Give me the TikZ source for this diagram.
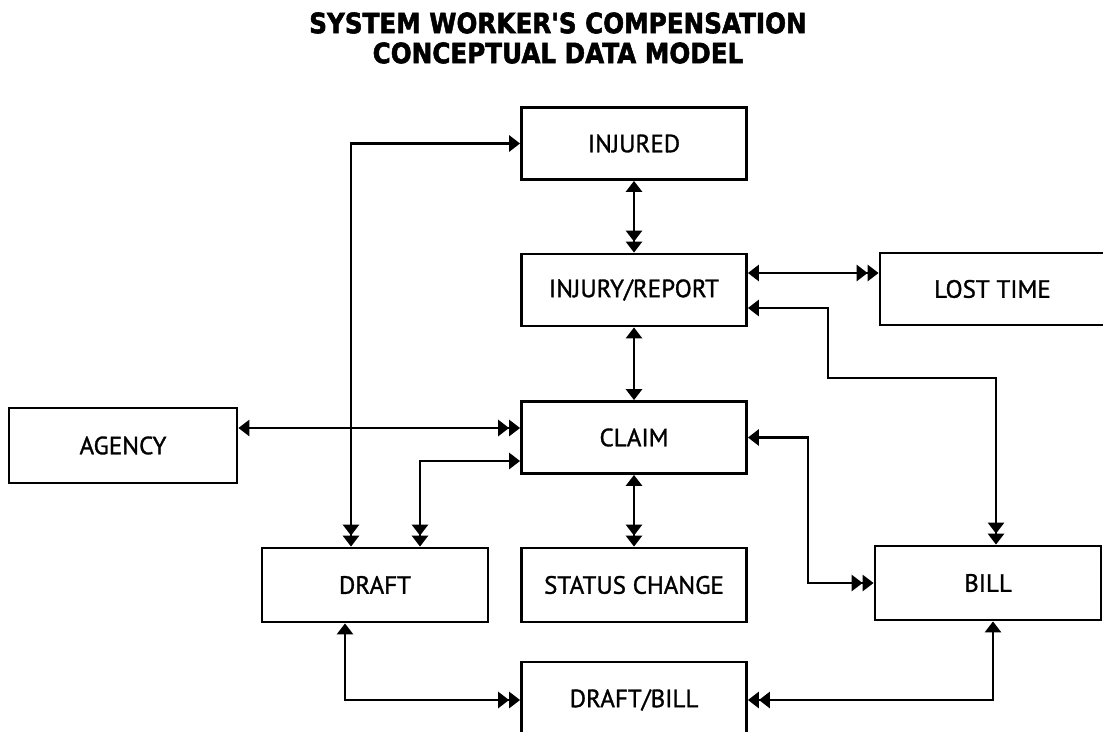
\documentclass[tikz,border=0pt]{standalone}
\usepackage{fontspec}
\usetikzlibrary{arrows.meta,calc}
\newfontfamily\labelfont[FakeBold=1.2]{PT Sans}
\newfontfamily\titlefont[BoldFeatures={FakeBold=2}]{DejaVu Sans}
\tikzset{
  box/.style={draw, line width=2.8pt, minimum width=225pt, minimum height=72pt,
    inner sep=0pt, font=\labelfont\fontsize{25}{28}\selectfont},
  conn/.style={line width=2.8pt},
  sd/.style={conn, {Triangle[width=16pt,length=11pt]}-{Triangle[width=16pt,length=11pt] Triangle[width=16pt,length=11pt]}},
  ss/.style={conn, {Triangle[width=16pt,length=11pt]}-{Triangle[width=16pt,length=11pt]}}
}
\begin{document}
\begin{tikzpicture}[x=1pt,y=-1pt]
\useasboundingbox (0,0) rectangle (1103,731);
\node[font=\titlefont\bfseries\fontsize{28}{30}\selectfont, align=center, inner sep=0pt] (title) at (558,38)
  {\scalebox{0.88}[1]{SYSTEM WORKER'S COMPENSATION}\\\scalebox{0.88}[1]{CONCEPTUAL DATA MODEL}};

\node[box] (INJURED) at (634,143.5) {INJURED};
\node[box] (INJURYREPORT) at (634,290) {INJURY/REPORT};
\node[box] (LOSTTIME) at (992.5,289) {LOST TIME};
\node[box, minimum width=228pt, minimum height=75pt] (AGENCY) at (123,445.5) {AGENCY};
\node[box] (CLAIM) at (634,437.5) {CLAIM};
\node[box, minimum width=226pt, minimum height=74pt] (DRAFT) at (375,585) {DRAFT};
\node[box, minimum height=74pt] (STATUS) at (634,585) {STATUS CHANGE};
\node[box, minimum width=226pt, minimum height=74pt] (BILL) at (988,583) {BILL};
\node[box, minimum height=76pt] (DRAFTBILL) at (634,700) {DRAFT/BILL};

\coordinate (d1) at ($(DRAFT.north)+(-24,0)$);
\coordinate (d2) at ($(DRAFT.north)+(45,0)$);
\coordinate (b1) at ($(BILL.north)+(8,0)$);
\coordinate (k1) at (828,378);

\draw[sd] (INJURED.west) -| (d1);
\draw[sd] (INJURED.south) -- (INJURYREPORT.north);
\draw[sd] ([yshift=17pt]INJURYREPORT.east) -- ([yshift=17pt]INJURYREPORT.east -| LOSTTIME.west);
\draw[sd] ([yshift=-18pt]INJURYREPORT.east) -| (k1) -| (b1);
\draw[ss] (INJURYREPORT.south) -- (CLAIM.north);
\draw[sd] ([yshift=17.5pt]AGENCY.east) -- ([yshift=17.5pt]AGENCY.east -| CLAIM.west);
\draw[sd] ([yshift=-23.5pt]CLAIM.west) -| (d2);
\draw[sd] (CLAIM.south) -- (STATUS.north);
\draw[sd] (CLAIM.east) -- ++(60,0) |- (BILL.west);
\draw[sd] ($(DRAFT.south)+(-30,0)$) |- (DRAFTBILL.west);
\draw[sd] ($(BILL.south)+(5,0)$) |- (DRAFTBILL.east);
\end{tikzpicture}
\end{document}
